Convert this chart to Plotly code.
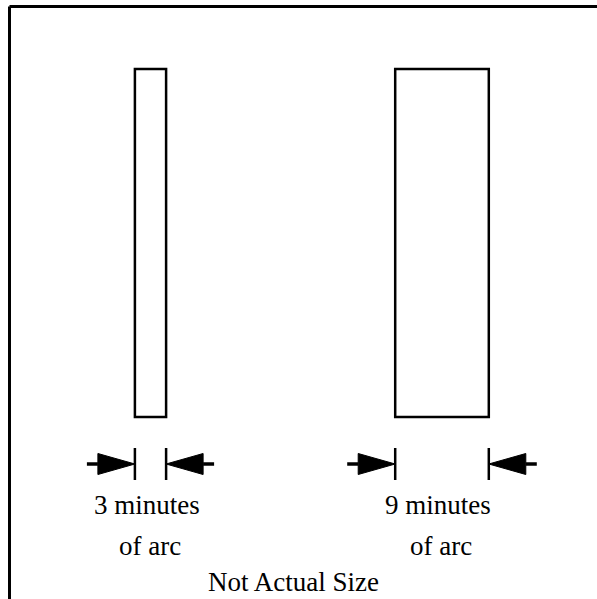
import plotly.graph_objects as go

# ---- data ----
labels = ["3 minutes<br>of arc", "9 minutes<br>of arc"]
arc_minutes = [3, 9]
note = "Not Actual Size"

# ---- layout constants (pixel-like drawing units) ----
W, H = 597, 599
PX_PER_MIN = 10.4
centers = [150.5, 442.0]
bar_top, bar_bottom = 69, 417
arrow_y = 464
tick_half = 16
tri_len = 37
tri_half = 10.5
tail_len = 11
FONT = "Liberation Serif, serif"
FS = 27

widths = [m * PX_PER_MIN for m in arc_minutes]

fig = go.Figure()
fig.add_trace(go.Bar(
    x=centers, y=[bar_bottom - bar_top] * len(centers), base=[bar_top] * len(centers),
    width=widths, marker=dict(color="white", line=dict(color="black", width=2.5)),
    hoverinfo="skip", showlegend=False,
))

shapes = []
# frame: top and left border
shapes.append(dict(type="line", x0=9.5, y0=6.5, x1=W + 20, y1=6.5, line=dict(color="black", width=3)))
shapes.append(dict(type="line", x0=9.5, y0=6.5, x1=9.5, y1=H + 20, line=dict(color="black", width=3)))

annotations = []
for c, w, lab in zip(centers, widths, labels):
    left, right = c - w / 2, c + w / 2
    for edge, d in ((left, -1), (right, 1)):
        shapes.append(dict(type="line", x0=edge, x1=edge, y0=arrow_y - tick_half, y1=arrow_y + tick_half,
                           line=dict(color="black", width=2.5)))
        base_x = edge + d * tri_len
        path = (f"M {edge} {arrow_y} L {base_x} {arrow_y - tri_half} "
                f"L {base_x} {arrow_y + tri_half} Z")
        shapes.append(dict(type="path", path=path, fillcolor="black", line=dict(color="black", width=1)))
        shapes.append(dict(type="line", x0=base_x, x1=base_x + d * tail_len, y0=arrow_y, y1=arrow_y,
                           line=dict(color="black", width=3.5)))
    top, bottom = lab.split("<br>")
    annotations.append(dict(x=c - 4, y=505, text=top, showarrow=False, xanchor="center", yanchor="middle",
                            font=dict(family=FONT, size=FS, color="black")))
    annotations.append(dict(x=c - 1, y=546, text=bottom, showarrow=False, xanchor="center", yanchor="middle",
                            font=dict(family=FONT, size=FS, color="black")))

annotations.append(dict(x=293, y=582, text=note, showarrow=False, xanchor="center", yanchor="middle",
                        font=dict(family=FONT, size=FS, color="black")))

fig.update_layout(
    width=W, height=H, margin=dict(l=0, r=0, t=0, b=0),
    paper_bgcolor="white", plot_bgcolor="white",
    xaxis=dict(range=[0, W], visible=False, fixedrange=True),
    yaxis=dict(range=[H, 0], visible=False, fixedrange=True),
    shapes=shapes, annotations=annotations, bargap=0,
)
fig.write_html(
    "out.html",
    config={"displayModeBar": False, "staticPlot": True},
    post_script="document.body.style.margin='0';document.body.style.overflow='hidden';",
)
